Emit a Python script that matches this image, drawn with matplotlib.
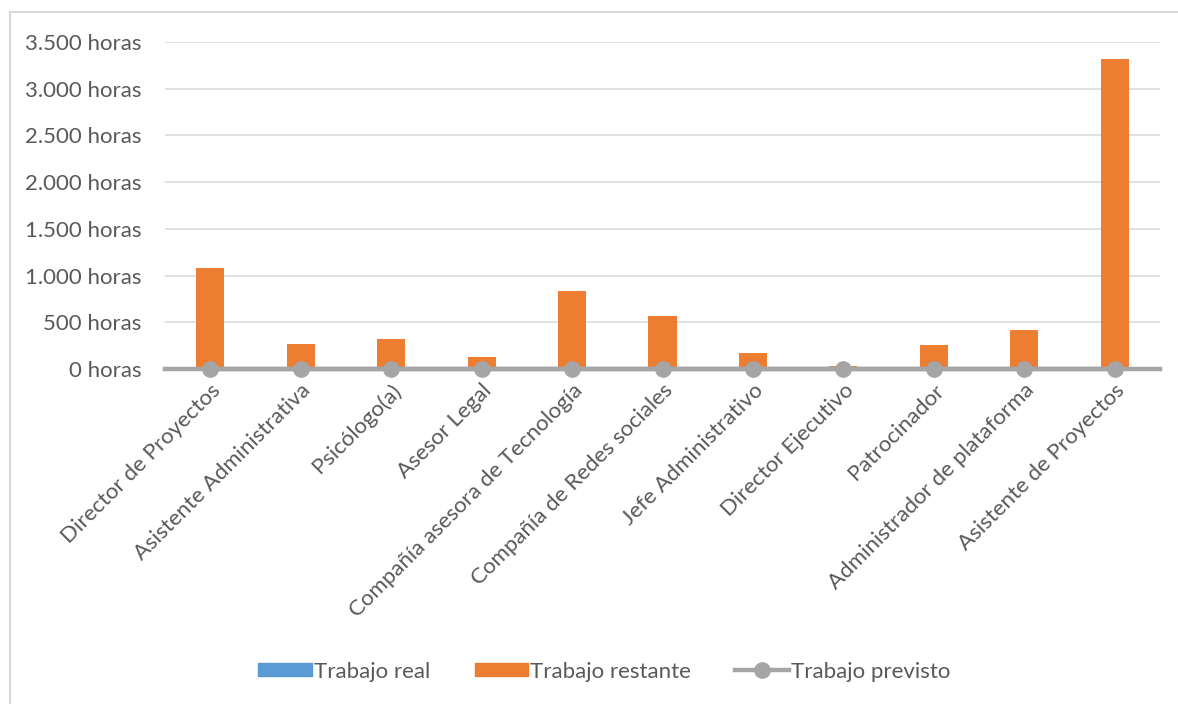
import matplotlib
matplotlib.use("Agg")
from matplotlib import pyplot as plt
from matplotlib.lines import Line2D
from matplotlib.ticker import FuncFormatter
import numpy as np

plt.rcParams['font.family'] = ['Lato', 'DejaVu Sans']

recursos = ['Director de Proyectos', 'Asistente Administrativa', 'Psicólogo(a)',
            'Asesor Legal', 'Compañía asesora de Tecnología', 'Compañía de Redes sociales',
            'Jefe Administrativo', 'Director Ejecutivo', 'Patrocinador',
            'Administrador de plataforma', 'Asistente de Proyectos']
trabajo_real = [0, 0, 0, 0, 0, 0, 0, 0, 0, 0, 0]
trabajo_restante = [1080, 268, 320, 125, 832, 571, 168, 32, 257, 421, 3319]
trabajo_previsto = [0, 0, 0, 0, 0, 0, 0, 0, 0, 0, 0]
yticks = [0, 500, 1000, 1500, 2000, 2500, 3000, 3500]

azul = '#5B9BD5'
naranja = '#ED7D31'
gris = '#A5A5A5'
texto = '#595959'

fig = plt.figure(figsize=(11.78, 7.04), dpi=100)
ax = fig.add_axes([0.1401, 0.4759, 0.8446, 0.4644])

x = np.arange(len(recursos))
ancho = 0.31
ax.bar(x, trabajo_real, ancho, color=azul, zorder=2)
ax.bar(x, trabajo_restante, ancho, bottom=trabajo_real, color=naranja, zorder=2)
ax.plot(x, trabajo_previsto, color=gris, lw=3.2, marker='o', ms=11, zorder=3, clip_on=False)
ax.plot([-0.5, 10.5], [0, 0], color=gris, lw=3.2, zorder=2.5, clip_on=False)

ax.set_xlim(-0.5, 10.5)
ax.set_ylim(0, 3500)
ax.set_yticks(yticks)
ax.yaxis.set_major_formatter(FuncFormatter(lambda v, p: f"{int(v):,} horas".replace(',', '.')))
ax.grid(axis='y', color='#D9D9D9', lw=1.1, zorder=0)
ax.set_axisbelow(True)
for s in ax.spines.values():
    s.set_visible(False)
ax.tick_params(axis='both', length=0, labelsize=16, labelcolor=texto)
ax.tick_params(axis='y', pad=17)
ax.set_xticks(x)
ax.set_xticklabels(recursos, rotation=45, ha='right', rotation_mode='anchor')
ax.tick_params(axis='x', pad=8)

handles = [plt.Rectangle((0, 0), 1, 1, color=azul),
           plt.Rectangle((0, 0), 1, 1, color=naranja),
           Line2D([0], [0], color=gris, lw=3.2, marker='o', ms=11)]
fig.legend(handles, ['Trabajo real', 'Trabajo restante', 'Trabajo previsto'],
           loc='center', bbox_to_anchor=(0.513, 0.046), ncol=3, frameon=False,
           fontsize=16, labelcolor=texto, handlelength=2.4, handleheight=0.55,
           handletextpad=0.1, columnspacing=2.0)

# borde del area del grafico (solo izquierda y arriba visibles)
fig.add_artist(Line2D([10 / 1178, 10 / 1178], [0, 1 - 12 / 704], color='#D9D9D9', lw=1.5))
fig.add_artist(Line2D([10 / 1178, 1], [1 - 12 / 704, 1 - 12 / 704], color='#D9D9D9', lw=1.5))

fig.savefig('out.png', dpi=100)
